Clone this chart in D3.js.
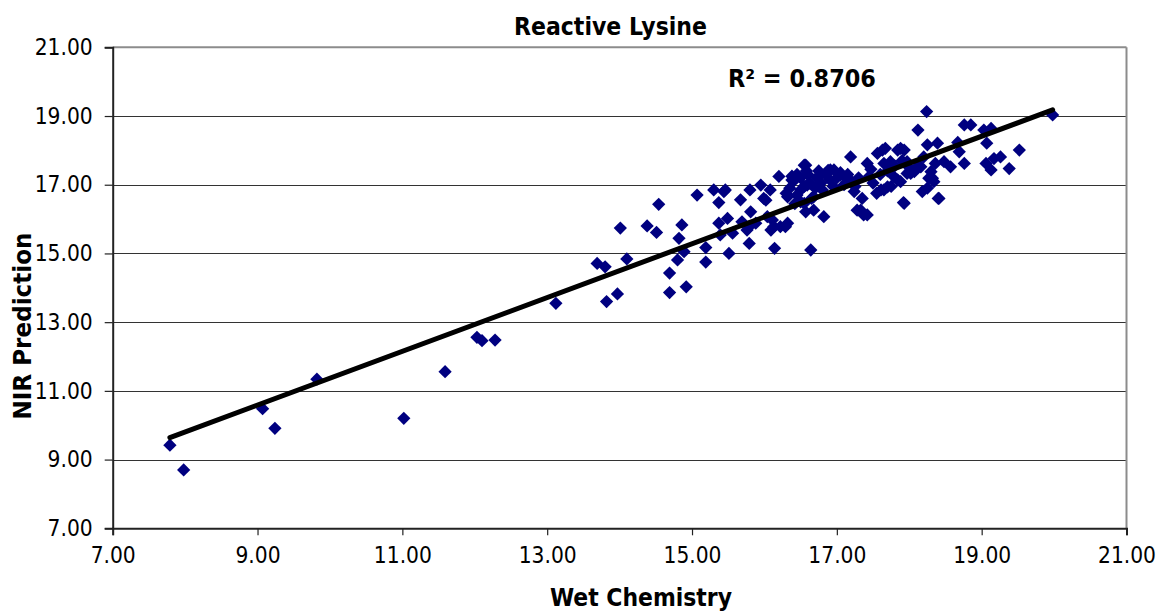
<!DOCTYPE html>
<html><head><meta charset="utf-8">
<script src="https://cdn.jsdelivr.net/npm/d3@7"></script>
<style>body{margin:0;background:#fff}svg{display:block}</style>
</head><body>
<script>
const title = "Reactive Lysine";
const xTitle = "Wet Chemistry";
const yTitle = "NIR Prediction";
const r2Label = "R² = 0.8706";
const xTicks = [7,9,11,13,15,17,19,21];
const yTicks = [7,9,11,13,15,17,19,21];
const wetChem = [
7.79,7.98,9.07,9.24,9.82,11.02,11.59,12.03,12.10,12.28,13.12,
13.69,13.80,13.82,13.97,14.01,14.10,14.38,14.51,14.54,14.69,14.69,14.80,14.82,14.86,14.89,14.92,
15.07,15.19,15.19,15.30,15.37,15.44,15.46,15.37,15.49,15.39,15.56,15.51,15.67,15.69,15.76,15.79,15.79,15.80,15.81,15.88,
15.95,15.99,16.02,16.04,16.08,16.09,16.11,16.13,16.14,16.20,16.22,16.29,16.32,16.32,16.38,16.55,16.55,16.57,16.57,16.64,16.68,16.68,16.82,16.91,
16.35,16.40,16.45,16.50,16.55,16.60,16.62,16.70,16.72,16.78,16.85,16.90,16.95,17.00,17.05,17.10,16.45,16.50,16.65,16.80,16.42,16.30,16.38,16.58,16.75,16.88,
16.59,16.96,17.05,16.78,16.50,17.14,
17.15,17.19,17.20,17.25,17.30,17.24,17.28,17.33,17.35,17.37,17.42,17.42,17.45,17.47,17.50,17.56,17.55,17.60,17.61,17.63,17.65,17.65,17.67,17.70,17.70,17.74,17.75,17.79,17.80,17.84,17.84,17.88,17.88,17.90,17.92,17.93,17.93,17.97,17.97,18.00,18.02,
18.07,18.11,18.12,18.16,18.18,18.20,18.24,18.25,18.25,18.27,18.30,18.32,18.34,18.36,18.39,18.40,18.41,18.48,18.57,18.67,18.69,18.76,18.76,18.85,
19.03,19.06,19.07,19.13,19.13,19.17,19.26,19.38,19.52,19.98
];
const nirPred = [
9.42,8.70,10.48,9.91,11.34,10.20,11.56,12.56,12.46,12.48,13.55,
14.71,14.61,13.60,13.82,15.74,14.84,15.80,15.61,16.43,14.43,13.86,14.81,15.44,15.83,15.05,14.03,
16.70,15.17,14.75,16.85,16.48,16.80,16.85,15.88,16.02,15.54,15.59,15.00,16.56,15.92,15.68,15.78,15.29,16.85,16.21,15.88,
16.99,16.60,16.55,16.07,16.85,15.68,15.97,15.78,15.15,17.24,15.78,15.78,16.65,15.88,17.14,17.57,16.46,16.21,17.57,15.10,16.26,16.65,16.07,17.43,
16.90,17.10,16.70,17.20,16.95,17.30,17.05,16.90,17.20,17.05,17.30,17.15,16.95,17.20,17.35,17.00,17.30,16.50,16.60,16.85,16.45,16.75,17.25,17.40,17.40,17.42,
16.99,17.43,17.28,17.28,16.85,17.19,
17.30,17.81,17.10,16.95,17.20,16.80,16.26,16.26,16.60,16.12,16.12,17.62,17.25,17.45,17.05,17.91,16.75,17.30,16.85,18.01,16.85,17.62,18.06,16.94,17.40,17.67,16.95,17.23,17.55,17.14,18.01,17.09,18.06,17.70,16.48,18.01,16.46,17.33,17.67,17.50,17.33,
17.38,17.52,18.59,17.52,16.80,17.81,19.13,18.16,16.90,17.19,17.38,17.19,17.09,17.62,18.21,16.60,16.60,17.67,17.52,18.23,17.96,18.74,17.62,18.74,
18.59,17.62,18.21,18.64,17.43,17.76,17.81,17.47,18.01,19.03
];

const W = 1160, H = 614;
const m = {left:112.7, right:1126.5, top:47.3, bottom:528.3};
const svg = d3.select("body").append("svg").attr("width",W).attr("height",H);
const x = d3.scaleLinear().domain([7,21]).range([m.left,m.right]);
const y = d3.scaleLinear().domain([7,21]).range([m.bottom,m.top]);
const FONT = "'DejaVu Sans Condensed','DejaVu Sans',sans-serif";

// gridlines
svg.append("g").selectAll("line").data(yTicks.filter(v=>v>7 && v<21)).join("line")
  .attr("x1",m.left).attr("x2",m.right).attr("y1",d=>Math.round(y(d))+0.5).attr("y2",d=>Math.round(y(d))+0.5)
  .attr("stroke","#333").attr("stroke-width",1);
// plot border top/right
svg.append("line").attr("x1",m.left).attr("x2",m.right).attr("y1",y(21)).attr("y2",y(21)).attr("stroke","#8c8c8c").attr("stroke-width",2);
svg.append("line").attr("x1",m.right).attr("x2",m.right).attr("y1",y(21)).attr("y2",y(7)).attr("stroke","#8c8c8c").attr("stroke-width",2);

// axes
const yAxis = d3.axisLeft(y).tickValues(yTicks).tickFormat(d3.format(".2f")).tickSize(8).tickPadding(12);
const xAxis = d3.axisBottom(x).tickValues(xTicks).tickFormat(d3.format(".2f")).tickSize(7).tickPadding(12);
const gy = svg.append("g").attr("transform",`translate(${m.left},0)`).call(yAxis);
const gx = svg.append("g").attr("transform",`translate(0,${m.bottom})`).call(xAxis);
[gx,gy].forEach(g=>{
  g.select(".domain").attr("stroke","#222").attr("stroke-width",2);
  g.selectAll(".tick line").attr("stroke","#222").attr("stroke-width",1.2);
  g.selectAll("text").attr("font-family",FONT).attr("font-size",22).attr("fill","#000");
});
// size tick labels so that "21.00" spans about 58px like the reference
{
  const lab = gy.selectAll("text").filter(d=>d===21);
  const len = lab.node().getComputedTextLength();
  const fs = 22*58/len;
  [gx,gy].forEach(g=>g.selectAll("text").attr("font-size",fs));
}

// points
const pts = wetChem.map((v,i)=>({x:v,y:nirPred[i]}));
svg.append("g").selectAll("path").data(pts).join("path")
  .attr("d",d3.symbol(d3.symbolSquare,88))
  .attr("transform",d=>`translate(${x(d.x)},${y(d.y)}) rotate(45)`)
  .attr("fill","#000080");

// trend line (least squares fit of the points)
const mx = d3.mean(pts,d=>d.x), my = d3.mean(pts,d=>d.y);
const slope = d3.sum(pts,d=>(d.x-mx)*(d.y-my))/d3.sum(pts,d=>(d.x-mx)**2);
const icpt = my - slope*mx;
const ext = d3.extent(wetChem);
svg.append("line")
  .attr("x1",x(ext[0])).attr("y1",y(icpt+slope*ext[0]))
  .attr("x2",x(ext[1])).attr("y2",y(icpt+slope*ext[1]))
  .attr("stroke","#000").attr("stroke-width",5).attr("stroke-linecap","round");

function fitText(sel, target){
  const len = sel.node().getComputedTextLength();
  const fs = +sel.attr("font-size");
  sel.attr("font-size", fs*target/len);
}
const t = svg.append("text").text(title).attr("x",610.5).attr("y",35).attr("text-anchor","middle")
  .attr("font-family",FONT).attr("font-weight","bold").attr("font-size",20);
fitText(t,193);
const r = svg.append("text").text(r2Label).attr("x",728).attr("y",87)
  .attr("font-family",FONT).attr("font-weight","bold").attr("font-size",20);
fitText(r,148);
const xt = svg.append("text").text(xTitle).attr("x",641).attr("y",606).attr("text-anchor","middle")
  .attr("font-family",FONT).attr("font-weight","bold").attr("font-size",20);
fitText(xt,182);
const yt = svg.append("text").text(yTitle).attr("transform","translate(31,326) rotate(-90)").attr("text-anchor","middle")
  .attr("font-family",FONT).attr("font-weight","bold").attr("font-size",20);
fitText(yt,187);
</script>
</body></html>
